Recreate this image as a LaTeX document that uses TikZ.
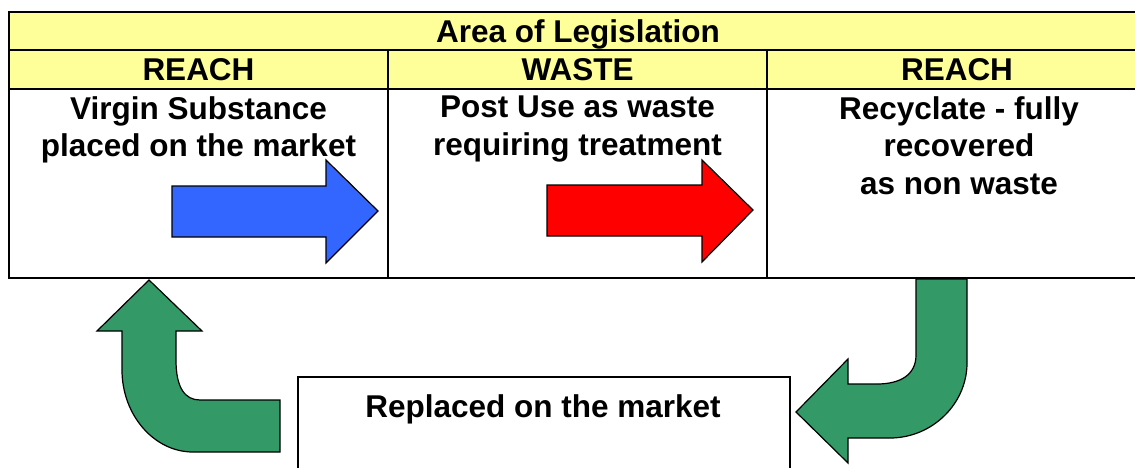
\documentclass[tikz,border=0pt]{standalone}
\usepackage{fontspec}
\setmainfont{Liberation Sans}
\definecolor{legyellow}{HTML}{FFFF99}
\definecolor{reachblue}{HTML}{3366FF}
\definecolor{wastered}{HTML}{FF0000}
\definecolor{loopgreen}{HTML}{339966}

\begin{document}
\begin{tikzpicture}[x=1pt,y=-1pt]
\tikzstyle{every node}+=[inner sep=0pt, font=\bfseries\fontsize{31.5}{37.5}\selectfont]
\tikzstyle{headcell}=[draw=black, fill=legyellow, line width=2.2pt, text height=22.6pt, text depth=0pt]
\tikzstyle{bodycell}=[draw=black, fill=white, line width=2.2pt, minimum width=379, minimum height=189]
\tikzstyle{blockarrow}=[draw=black, line width=1.2pt]
\useasboundingbox (0,0) rectangle (1135,468);
\clip (0,0) rectangle (1135,468);

\node [bodycell] (virgin) at (198.5,183.5) {};
\node [bodycell] (postuse) at (577.5,183.5) {};
\node [bodycell, minimum width=380] (recyclate) at (957,183.5) {};

\node [headcell, minimum width=379, minimum height=39] (reachA) at (198.5,69.5) {REACH};
\node [headcell, minimum width=379, minimum height=39] (waste) at (577.5,69.5) {WASTE};
\node [headcell, minimum width=380, minimum height=39] (reachB) at (957,69.5) {REACH};
\node [headcell, minimum width=1138, minimum height=38] (area) at (578,31) {Area of Legislation};

\node [anchor=north, align=center] (virgintext) at (198.5,96) {Virgin Substance\\placed on the market};
\node [anchor=north, align=center] (postusetext) at (577.5,96) {Post Use as waste\\requiring treatment};
\node [anchor=north, align=center] (recyclatetext) at (959,96) {Recyclate - fully\\recovered\\as non waste};

\node [draw=black, line width=1.5pt, minimum width=492, minimum height=120, anchor=north west] (replaced) at (297,376) {};
\node [anchor=base] (replacedtext) at (543,417) {Replaced on the market};

\draw [blockarrow, fill=reachblue] (172,186) -- (326,186) -- (326,160) -- (378,211) -- (326,263) -- (326,237) -- (172,237) -- cycle;
\draw [blockarrow, fill=wastered] (547,185) -- (702,185) -- (702,160) -- (753,210) -- (702,262) -- (702,236) -- (547,236) -- cycle;

\draw [blockarrow, fill=loopgreen] (149,280) -- (202,331) -- (176,331) -- (176,360) .. controls (176,388) and (185,400) .. (200,400) -- (280,400) -- (280,452) -- (193,452) .. controls (154,452) and (122,415) .. (122,370) -- (122,331) -- (97,331) -- cycle;
\draw [blockarrow, fill=loopgreen] (916,279) -- (967,279) -- (967,363) .. controls (967,404) and (932,438) .. (890,438) -- (848,438) -- (848,463) -- (796,412) -- (848,359) -- (848,384) -- (877,384) .. controls (900,384) and (916,375) .. (916,355) -- cycle;
\end{tikzpicture}
\end{document}
